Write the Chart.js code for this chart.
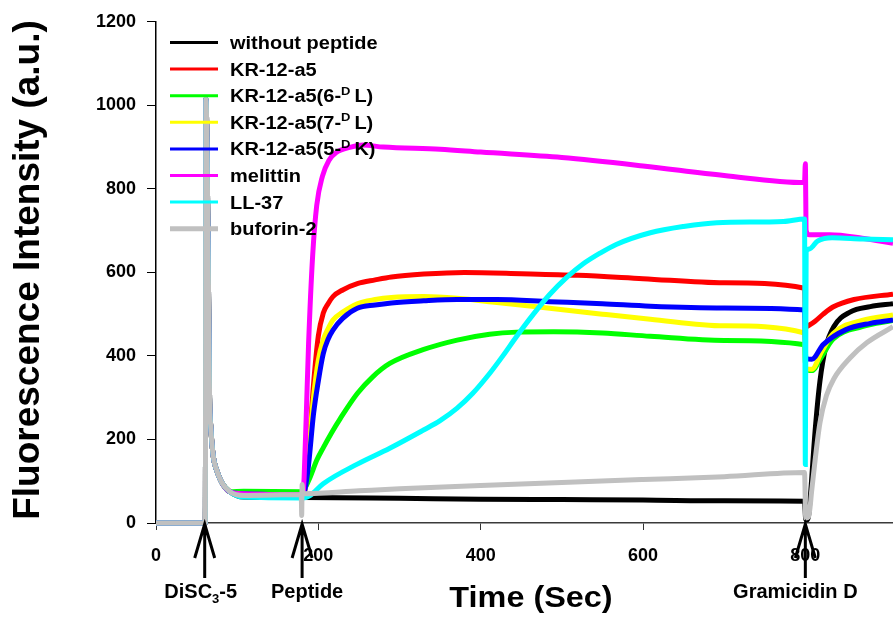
<!DOCTYPE html>
<html>
<head>
<meta charset="utf-8">
<script src="https://cdn.jsdelivr.net/npm/chart.js@4.4.1/dist/chart.umd.min.js"></script>
<style>
  html, body { margin: 0; padding: 0; background: #fff; }
  #wrap { width: 893px; height: 617px; position: relative; }
</style>
</head>
<body>
<div id="wrap"><canvas id="chart"></canvas></div>
<script>
// time (sec) / fluorescence (a.u.) pairs
var dyeSpike = [[0,0],[60.8,0],[61.5,1015],[64.5,600],[66,300],[67.5,230],[70.5,160],[75,125],[81,97],[91,75]];

var withoutPeptide = [[108,62],[180,61],[300,59],[400,57],[500,56],[600,55],[700,53],[799,52],[800.5,8],[803,8],[806,60],[812,220],[818,340],[825,420],[835,470],[855,505],[880,518],[908,525]];
var kr12a5 = [[108,68],[181,66],[183,75],[186,110],[190,220],[194,330],[200,448],[206,502],[212,525],[218,542],[230,558],[248,573],[270,582],[290,589],[330,596],[380,600],[450,597],[520,593],[600,585],[700,575],[799,562],[800.5,470],[805,474],[812,483],[822,500],[834,517],[860,535],[908,548]];
var kr12a5_6DL = [[108,76],[181,75],[184,85],[190,110],[198,150],[206,180],[216,215],[227,250],[248,310],[267,350],[288,382],[329,415],[371,438],[411,452],[444,457],[490,458],[550,455],[609,447],[700,437],[799,427],[800.5,370],[808,365],[820,398],[834,440],[870,470],[908,485]];
var kr12a5_7DL = [[108,68],[181,66],[183,75],[187,150],[194,300],[200,390],[206,438],[212,465],[218,486],[230,505],[248,525],[270,535],[290,540],[330,542],[371,538],[420,528],[485,514],[550,500],[609,488],[700,472],[799,455],[800.5,370],[808,368],[820,410],[834,453],[870,485],[908,498]];
var kr12a5_5DK = [[108,70],[181,68],[183,75],[188,140],[194,260],[200,340],[206,405],[212,440],[218,462],[230,490],[248,514],[270,522],[290,527],[330,532],[371,535],[420,535],[485,530],[550,525],[609,519],[700,515],[799,510],[800.5,395],[808,392],[822,427],[850,463],[880,478],[908,486]];
var melittin = [[108,70],[181,68],[182.5,110],[185,250],[188,430],[193,640],[198,760],[205,830],[213,868],[222,887],[240,900],[255,905],[280,900],[350,895],[400,888],[500,875],[600,855],[700,832],[799,815],[800,860],[801,700],[805,690],[830,690],[870,682],[908,670]];
var ll37 = [[108,62],[181,60],[186,62],[190,66],[206,94],[248,141],[288,179],[329,222],[350,245],[371,275],[390,310],[411,358],[428,402],[444,446],[465,500],[485,547],[506,588],[526,620],[547,646],[567,667],[609,695],[650,710],[691,719],[773,722],[799,728],[800,140],[801,650],[805,656],[815,675],[833,683],[870,680],[908,678]];
var buforin2 = [[108,66],[179,68],[179.5,18],[180,92],[181,70],[250,77],[300,82],[400,90],[500,97],[600,104],[700,111],[799,121],[800.5,12],[804,15],[808,80],[812,150],[818,240],[826,305],[835,345],[855,395],[876,432],[908,470]];

var seriesNames = ['without peptide', 'KR-12-a5', 'KR-12-a5(6-|D|L)', 'KR-12-a5(7-|D|L)', 'KR-12-a5(5-|D|K)', 'melittin', 'LL-37', 'buforin-2'];
var seriesData = [withoutPeptide, kr12a5, kr12a5_6DL, kr12a5_7DL, kr12a5_5DK, melittin, ll37, buforin2];
var seriesColors = ['#000000', '#ff0000', '#00ff00', '#ffff00', '#0000ff', '#ff00ff', '#00ffff', '#c0c0c0'];

var xTicks = [0, 200, 400, 600, 800];
var yTicks = [0, 200, 400, 600, 800, 1000, 1200];

var events = [
  { t: 60, label: 'DiSC|3|-5', dx: -4 },
  { t: 180, label: 'Peptide', dx: 5 },
  { t: 800, label: 'Gramicidin D', dx: -10 }
];

var FONT = '"Liberation Sans", Arial, sans-serif';

// text with optional superscript/subscript parts: 'a|b|c' -> b is raised (letter) or lowered (digit)
function richText(ctx, text, x, y, size, align, sx) {
  var parts = text.split('|');
  ctx.save();
  ctx.translate(x, y);
  ctx.scale(sx, 1);
  var widths = [], total = 0;
  parts.forEach(function (p, i) {
    ctx.font = 'bold ' + (i % 2 ? size * 0.65 : size) + 'px ' + FONT;
    var w = ctx.measureText(p).width + (i % 2 && /[A-Z]/.test(p) ? size * 0.2 : 0);
    widths.push(w); total += w;
  });
  var cx = align === 'center' ? -total / 2 : 0;
  ctx.textAlign = 'left';
  ctx.textBaseline = 'alphabetic';
  parts.forEach(function (p, i) {
    var small = i % 2 === 1;
    ctx.font = 'bold ' + (small ? size * 0.65 : size) + 'px ' + FONT;
    var dy = small ? (/[A-Z]/.test(p) ? -size * 0.42 : size * 0.25) : 0;
    ctx.fillText(p, cx, dy);
    cx += widths[i];
  });
  ctx.restore();
}

var decorations = {
  id: 'decorations',
  afterDraw: function (chart) {
    var ctx = chart.ctx, xs = chart.scales.x, area = chart.chartArea;

    // legend
    seriesNames.forEach(function (name, i) {
      var y = 42.5 + i * 26.6;
      ctx.save();
      ctx.strokeStyle = seriesColors[i];
      ctx.lineWidth = i === 7 ? 5 : 3;
      ctx.beginPath();
      ctx.moveTo(170, y);
      ctx.lineTo(218, y);
      ctx.stroke();
      ctx.restore();
      ctx.fillStyle = '#000';
      richText(ctx, name, 230, y + 6.5, 18, 'left', 1.11);
    });

    // event arrows
    events.forEach(function (ev) {
      var x = xs.getPixelForValue(ev.t), tip = area.bottom + 1;
      ctx.save();
      ctx.strokeStyle = '#000';
      ctx.lineWidth = 3;
      ctx.beginPath();
      ctx.moveTo(x, tip);
      ctx.lineTo(x, 578);
      ctx.moveTo(x - 10, tip + 34);
      ctx.lineTo(x, tip);
      ctx.lineTo(x + 10, tip + 34);
      ctx.stroke();
      ctx.restore();
      ctx.fillStyle = '#000';
      richText(ctx, ev.label, x + ev.dx, 598, 20, 'center', 1);
    });

    // axis titles
    ctx.save();
    ctx.fillStyle = '#000';
    ctx.font = 'bold 37px ' + FONT;
    ctx.textAlign = 'center';
    ctx.textBaseline = 'alphabetic';
    ctx.translate(39, 270);
    ctx.rotate(-Math.PI / 2);
    ctx.fillText('Fluorescence Intensity (a.u.)', 0, 0);
    ctx.restore();
    richText(ctx, 'Time (Sec)', 531, 606.5, 30, 'center', 1.08);
  }
};

var datasets = seriesData.map(function (pts, i) {
  return {
    label: seriesNames[i].replace(/\|/g, ''),
    data: dyeSpike.concat(pts).map(function (p) { return { x: p[0], y: p[1] }; }),
    borderColor: seriesColors[i],
    backgroundColor: seriesColors[i],
    borderWidth: 5,
    pointRadius: 0,
    fill: false,
    clip: 4,
    cubicInterpolationMode: 'monotone',
    order: -i
  };
});

new Chart(document.getElementById('chart'), {
  type: 'line',
  data: { datasets: datasets },
  options: {
    responsive: true,
    maintainAspectRatio: false,
    animation: false,
    parsing: false,
    layout: { padding: { top: 13.5, right: 0, left: 0, bottom: 0 } },
    plugins: { legend: { display: false }, tooltip: { enabled: false } },
    scales: {
      x: {
        type: 'linear',
        min: 0,
        max: 908,
        afterFit: function (s) { s.height = 94; },
        afterBuildTicks: function (s) { s.ticks = xTicks.map(function (v) { return { value: v }; }); },
        ticks: {
          color: '#000', padding: 15, font: { family: FONT, size: 18, weight: 'bold' },
          callback: function (v) { return String(v); }
        },
        grid: { drawOnChartArea: false, drawTicks: true, tickLength: 7, color: '#333', lineWidth: 1 },
        border: { color: '#3a3a3a', width: 1.5 }
      },
      y: {
        type: 'linear',
        min: 0,
        max: 1200,
        afterFit: function (s) { s.width = 156; },
        afterBuildTicks: function (s) { s.ticks = yTicks.map(function (v) { return { value: v }; }); },
        ticks: {
          color: '#000', padding: 11, font: { family: FONT, size: 18, weight: 'bold' },
          callback: function (v) { return String(v); }
        },
        grid: { drawOnChartArea: false, drawTicks: true, tickLength: 9, color: '#000', lineWidth: 1 },
        border: { color: '#000', width: 1.5 }
      }
    }
  },
  plugins: [decorations]
});
</script>
</body>
</html>
